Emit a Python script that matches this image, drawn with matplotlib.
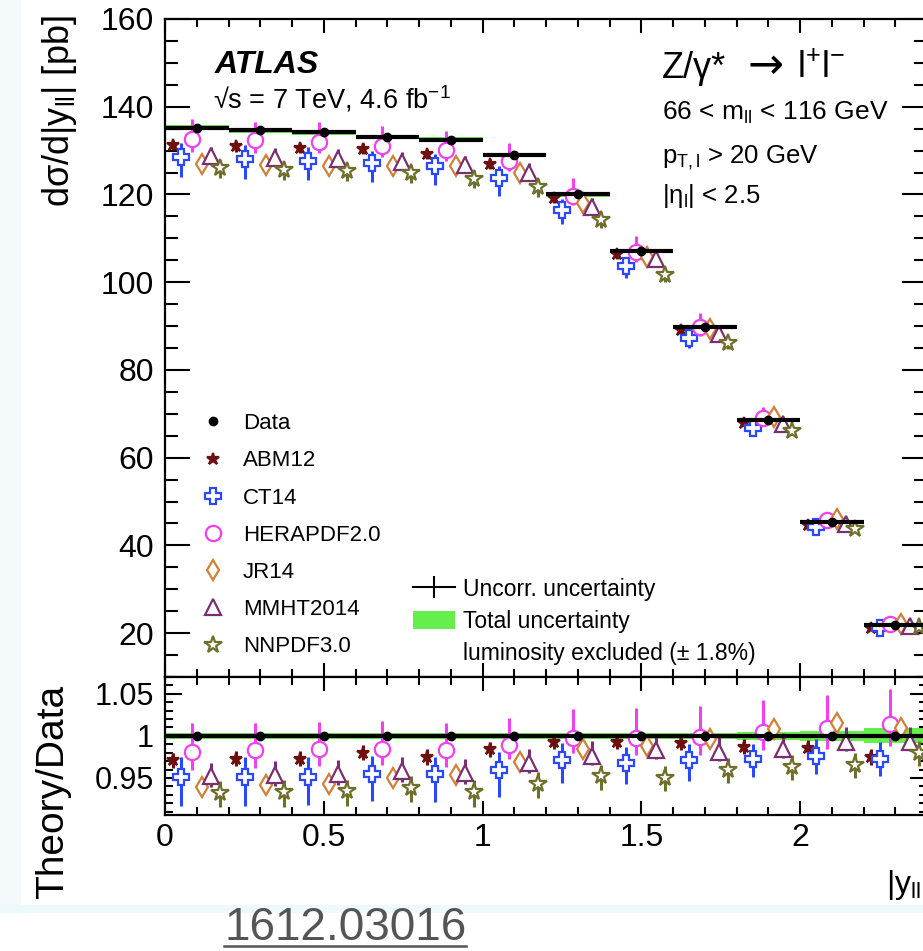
import matplotlib
matplotlib.use("Agg")
import matplotlib.pyplot as plt
from matplotlib.lines import Line2D
from matplotlib.patches import Patch, Rectangle
from matplotlib.ticker import MultipleLocator, FormatStrFormatter

plt.rcParams["font.family"] = ["Liberation Sans", "DejaVu Sans"]
plt.rcParams["mathtext.fontset"] = "custom"
plt.rcParams["mathtext.rm"] = "Liberation Sans"
plt.rcParams["mathtext.it"] = "Liberation Sans:italic"
plt.rcParams["mathtext.bf"] = "Liberation Sans:bold"

# |y_ll| bins
bin_lo = [0.0, 0.2, 0.4, 0.6, 0.8, 1.0, 1.2, 1.4, 1.6, 1.8, 2.0, 2.2]
bin_hi = [0.2, 0.4, 0.6, 0.8, 1.0, 1.2, 1.4, 1.6, 1.8, 2.0, 2.2, 2.4]
bin_mid = [0.1, 0.3, 0.5, 0.7, 0.9, 1.1, 1.3, 1.5, 1.7, 1.9, 2.1, 2.3]

# measured cross section [pb] and relative uncertainties
data = [135.2, 134.6, 134.2, 133.1, 132.5, 129.0, 120.0, 107.1, 89.8, 68.7, 45.3, 21.8]
data_uncorr = [0.002, 0.002, 0.002, 0.002, 0.002, 0.002, 0.002, 0.002, 0.002, 0.002, 0.003, 0.004]
data_total = [0.004, 0.004, 0.004, 0.004, 0.004, 0.004, 0.004, 0.004, 0.004, 0.005, 0.006, 0.009]

# theory / data ratios
abm12 = [0.971, 0.973, 0.973, 0.980, 0.975, 0.984, 0.993, 0.993, 0.992, 0.987, 0.986, 0.975]
ct14 = [0.951, 0.951, 0.951, 0.955, 0.955, 0.960, 0.971, 0.968, 0.971, 0.972, 0.976, 0.972]
hera = [0.981, 0.983, 0.984, 0.985, 0.983, 0.989, 0.997, 0.998, 0.999, 1.005, 1.009, 1.014]
jr14 = [0.939, 0.942, 0.943, 0.950, 0.954, 0.969, 0.984, 0.988, 0.996, 1.008, 1.015, 1.009]
mmht = [0.952, 0.954, 0.955, 0.958, 0.956, 0.968, 0.976, 0.983, 0.981, 0.985, 0.993, 0.993]
nnpdf = [0.932, 0.933, 0.934, 0.938, 0.933, 0.943, 0.952, 0.950, 0.960, 0.963, 0.966, 0.980]

# theory uncertainties (relative, down / up)
abm12_dn = [0.009, 0.009, 0.009, 0.009, 0.009, 0.009, 0.009, 0.009, 0.009, 0.009, 0.009, 0.009]
abm12_up = [0.009, 0.009, 0.009, 0.009, 0.009, 0.009, 0.009, 0.009, 0.009, 0.009, 0.009, 0.009]
ct14_dn = [0.034, 0.034, 0.033, 0.032, 0.033, 0.033, 0.027, 0.025, 0.025, 0.021, 0.021, 0.020]
ct14_up = [0.024, 0.024, 0.024, 0.021, 0.020, 0.021, 0.021, 0.019, 0.019, 0.018, 0.020, 0.021]
hera_dn = [0.021, 0.021, 0.020, 0.019, 0.020, 0.017, 0.017, 0.021, 0.022, 0.022, 0.025, 0.026]
hera_up = [0.034, 0.032, 0.033, 0.033, 0.032, 0.032, 0.035, 0.035, 0.037, 0.038, 0.040, 0.042]
jr14_dn = [0.002, 0.002, 0.002, 0.002, 0.002, 0.002, 0.002, 0.002, 0.002, 0.002, 0.002, 0.002]
jr14_up = [0.002, 0.002, 0.002, 0.002, 0.002, 0.002, 0.002, 0.002, 0.002, 0.002, 0.002, 0.002]
mmht_dn = [0.013, 0.013, 0.013, 0.013, 0.013, 0.012, 0.011, 0.011, 0.011, 0.011, 0.011, 0.011]
mmht_up = [0.016, 0.016, 0.016, 0.017, 0.016, 0.017, 0.018, 0.018, 0.018, 0.018, 0.018, 0.018]
nnpdf_dn = [0.017, 0.017, 0.017, 0.017, 0.017, 0.017, 0.016, 0.016, 0.016, 0.016, 0.016, 0.016]
nnpdf_up = [0.014, 0.014, 0.014, 0.014, 0.014, 0.014, 0.014, 0.014, 0.014, 0.014, 0.014, 0.014]

models = [
    ("ABM12", abm12, abm12_dn, abm12_up),
    ("CT14", ct14, ct14_dn, ct14_up),
    ("HERAPDF2.0", hera, hera_dn, hera_up),
    ("JR14", jr14, jr14_dn, jr14_up),
    ("MMHT2014", mmht, mmht_dn, mmht_up),
    ("NNPDF3.0", nnpdf, nnpdf_dn, nnpdf_up),
]

styles = {
    "ABM12": dict(marker="*", color="#6e1010", mfc="#6e1010", ms=9, off=-0.075),
    "CT14": dict(marker="P", color="#2a48ff", mfc="white", ms=12, off=-0.049),
    "HERAPDF2.0": dict(marker="o", color="#f040f0", mfc="white", ms=11, off=-0.015),
    "JR14": dict(marker="d", color="#d08038", mfc="white", ms=10, off=0.017),
    "MMHT2014": dict(marker="^", color="#7a2f72", mfc="white", ms=11, off=0.046),
    "NNPDF3.0": dict(marker="*", color="#6f6f2c", mfc="white", ms=13, off=0.074),
}
GREEN = "#66ee4c"

W, H = 923, 951
fig = plt.figure(figsize=(W / 100, H / 100), dpi=100)
fig.patches.append(Rectangle((0, 1 - 912 / H), 20 / W, 912 / H, transform=fig.transFigure,
                             color="#f4fafb", zorder=0))
fig.patches.append(Rectangle((0, 1 - 912 / H), 1, 7 / H, transform=fig.transFigure,
                             color="#eef9fb", zorder=0))

ax = fig.add_axes([165 / W, 1 - 677 / H, 762 / W, 658 / H])
rax = fig.add_axes([165 / W, 1 - 815 / H, 762 / W, 138 / H], sharex=ax)

widths = [h - l for l, h in zip(bin_lo, bin_hi)]

# ---- top panel
ax.bar(bin_lo, [2 * t * d for t, d in zip(data_total, data)], width=widths,
       bottom=[d * (1 - t) for t, d in zip(data_total, data)], align="edge",
       color=GREEN, lw=0, zorder=1)
ax.hlines(data, bin_lo, bin_hi, color="black", lw=3, zorder=4)

handles = {}
for name, ratio, dn, up in models:
    st = styles[name]
    xs = [m + st["off"] for m in bin_mid]
    ys = [r * d for r, d in zip(ratio, data)]
    yerr = [[e * d for e, d in zip(dn, data)], [e * d for e, d in zip(up, data)]]
    c = ax.errorbar(xs, ys, yerr=yerr, fmt=st["marker"], color=st["color"], mfc=st["mfc"],
                    mec=st["color"], ms=st["ms"], mew=1.6, elinewidth=2.2, capsize=0, zorder=3)
    handles[name] = c[0]

dc = ax.errorbar(bin_mid, data, yerr=[u * d for u, d in zip(data_uncorr, data)], fmt="o",
                 color="black", ms=6, elinewidth=1.5, capsize=0, zorder=5)

ax.set_xlim(0, 2.4)
ax.set_ylim(10, 160)

# ---- ratio panel
rax.bar(bin_lo, [2 * t for t in data_total], width=widths,
        bottom=[1 - t for t in data_total], align="edge", color=GREEN, lw=0, zorder=1)
rax.hlines([1.0] * len(bin_lo), bin_lo, bin_hi, color="black", lw=3, zorder=4)
for name, ratio, dn, up in models:
    st = styles[name]
    xs = [m + st["off"] for m in bin_mid]
    rax.errorbar(xs, ratio, yerr=[dn, up], fmt=st["marker"], color=st["color"], mfc=st["mfc"],
                 mec=st["color"], ms=st["ms"], mew=1.6, elinewidth=2.2, capsize=0, zorder=3)
rax.errorbar(bin_mid, [d / d for d in data], yerr=data_uncorr, fmt="o", color="black",
             ms=6, elinewidth=1.5, capsize=0, zorder=5)
rax.set_ylim(0.906, 1.07)

# ---- ticks / spines
for a in (ax, rax):
    for s in a.spines.values():
        s.set_linewidth(1.6)
    a.tick_params(which="both", direction="in", top=True, right=True, width=1.5)
    a.tick_params(axis="x", which="major", length=10)
    a.tick_params(axis="x", which="minor", length=5.5)
    a.xaxis.set_major_locator(MultipleLocator(0.5))
    a.xaxis.set_minor_locator(MultipleLocator(0.1))

ax.tick_params(axis="x", labelbottom=False)
ax.tick_params(axis="y", which="major", length=18, labelsize=23, pad=8)
ax.tick_params(axis="y", which="minor", length=9.5)
ax.yaxis.set_major_locator(MultipleLocator(20))
ax.yaxis.set_minor_locator(MultipleLocator(5))

rax.tick_params(axis="y", which="major", length=12, labelsize=22, pad=8)
rax.tick_params(axis="y", which="minor", length=6)
rax.tick_params(axis="x", labelsize=23, pad=6)
rax.yaxis.set_major_locator(MultipleLocator(0.05))
rax.yaxis.set_minor_locator(MultipleLocator(0.01))
rax.yaxis.set_major_formatter(FormatStrFormatter("%g"))
rax.xaxis.set_major_formatter(FormatStrFormatter("%g"))

# ---- legends
leg1 = ax.legend([dc[0]] + [handles[m[0]] for m in models], ["Data"] + [m[0] for m in models],
                 loc="upper left", bbox_to_anchor=(0.0486, 0.401), frameon=False, fontsize=16,
                 handlelength=1.0, handletextpad=0.85, labelspacing=0.73, borderpad=0,
                 borderaxespad=0, numpoints=1)
ax.add_artist(leg1)
unc_handle = Line2D([], [], color="black", lw=1.5, marker="|", ms=16, mew=1.5)
tot_handle = Patch(facecolor=GREEN, edgecolor="none")
blank = Line2D([], [], linestyle="none")
ax.legend([unc_handle, tot_handle, blank],
          ["Uncorr. uncertainty", "Total uncertainty", "luminosity excluded (± 1.8%)"],
          loc="upper left", bbox_to_anchor=(0.3255, 0.151), frameon=False, fontsize=16.5,
          handlelength=1.83, handletextpad=0.35, handleheight=0.83, labelspacing=0.41,
          borderpad=0, borderaxespad=0)

# ---- labels and annotations
def px(x, y):
    return x / W, 1 - y / H

fig.text(*px(60, 15), r"dσ/d|y$_{\rm ll}$| [pb]", rotation=90, ha="center", va="top", fontsize=26)
fig.text(*px(53, 792), "Theory/Data", rotation=90, ha="center", va="center", fontsize=28)
fig.text(*px(886, 893), r"|y$_{\rm ll}$|", ha="left", va="baseline", fontsize=23)

fig.text(*px(215, 73), "ATLAS", fontweight="bold", style="italic", fontsize=23, va="baseline")
fig.text(*px(213, 108), r"√s = 7 TeV, 4.6 fb$^{-1}$", fontsize=19.5, va="baseline")
fig.text(*px(662, 78), "Z/γ*", fontsize=26, va="baseline")
fig.text(*px(747, 78), "→", fontsize=31, va="baseline", family=["DejaVu Sans"])
fig.text(*px(797, 78), "l$^{+}$l$^{-}$", fontsize=26, va="baseline")
fig.text(*px(662, 120), r"66 < m$_{\rm ll}$ < 116 GeV", fontsize=19, va="baseline")
fig.text(*px(662, 163), r"p$_{\rm T,l}$ > 20 GeV", fontsize=18.5, va="baseline")
fig.text(*px(662, 203), r"|η$_{\rm l}$| < 2.5", fontsize=18.5, va="baseline")

fig.text(*px(224, 940), "1612.03016", fontsize=33, color="#555555", va="baseline")
fig.add_artist(Line2D([224 / W, 466 / W], [1 - 946 / H, 1 - 946 / H], color="#555555", lw=1.8))

fig.savefig("out.png", dpi=100)
